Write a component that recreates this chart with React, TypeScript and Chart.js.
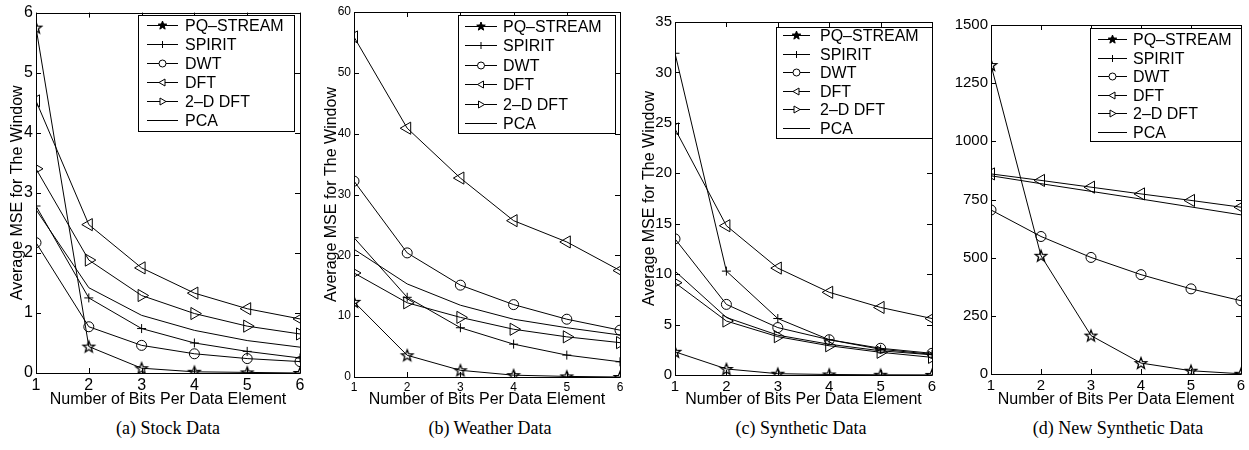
import React, { useEffect, useRef } from "react";
import { Chart, registerables } from "chart.js";

Chart.register(...registerables);

// ---------- data ----------
const xValues = [1, 2, 3, 4, 5, 6];
const seriesNames = ["PQ–STREAM", "SPIRIT", "DWT", "DFT", "2–D DFT", "PCA"];
const xTitle = "Number of Bits Per Data Element";
const yTitle = "Average MSE for The Window";
const captions = ["(a) Stock Data", "(b) Weather Data", "(c) Synthetic Data", "(d) New Synthetic Data"];

// (a) Stock data
const stockPQ = [5.75, 0.44, 0.08, 0.02, 0.01, 0.0];
const stockSPIRIT = [2.78, 1.25, 0.74, 0.5, 0.36, 0.25];
const stockDWT = [2.17, 0.77, 0.46, 0.32, 0.24, 0.19];
const stockDFT = [4.53, 2.47, 1.75, 1.33, 1.07, 0.9];
const stock2DDFT = [3.4, 1.88, 1.29, 0.99, 0.78, 0.65];
const stockPCA = [2.72, 1.42, 0.96, 0.71, 0.54, 0.43];

// (b) Weather data
const weatherPQ = [12.35, 3.57, 1.1, 0.3, 0.1, 0.0];
const weatherSPIRIT = [22.9, 13.1, 8.1, 5.4, 3.6, 2.5];
const weatherDWT = [32.2, 20.4, 15.1, 11.9, 9.5, 7.7];
const weatherDFT = [55.9, 40.9, 32.7, 25.7, 22.2, 17.5];
const weather2DDFT = [17.1, 12.2, 9.8, 7.85, 6.6, 5.65];
const weatherPCA = [21.0, 15.3, 11.8, 9.5, 8.1, 6.9];

// (c) Synthetic data
const synthPQ = [2.3, 0.6, 0.13, 0.05, 0.02, 0.01];
const synthSPIRIT = [31.9, 10.3, 5.6, 3.5, 2.55, 2.05];
const synthDWT = [13.5, 7.0, 4.7, 3.5, 2.65, 2.15];
const synthDFT = [24.4, 14.8, 10.6, 8.2, 6.7, 5.6];
const synth2DDFT = [9.15, 5.35, 3.8, 2.9, 2.25, 1.75];
const synthPCA = [10.3, 5.7, 3.95, 3.05, 2.4, 2.0];

// (d) New synthetic data (SPIRIT and 2-D DFT not visible in the plot)
const newPQ = [1328, 508, 165, 47, 14, 1];
const newSPIRIT: (number | null)[] = [null, null, null, null, null, null];
const newDWT = [705, 591, 501, 427, 366, 315];
const newDFT = [860, 832, 803, 774, 746, 717];
const new2DDFT: (number | null)[] = [null, null, null, null, null, null];
const newPCA = [852, 818, 785, 752, 718, 684];

const yMaxes = [6, 60, 35, 1500];
const ySteps = [1, 10, 5, 250];

// ---------- layout (page coordinates) ----------
type Spec = {
  series: (number | null)[][];
  yMax: number;
  yStep: number;
  canvasLeft: number;
  canvasWidth: number;
  plotLeft: number;
  plotRight: number;
  plotTop: number;
  plotBottom: number;
  tickFont: number;
  showYTitle: boolean;
  yTitleCenter: number;
  legend: { l: number; t: number; r: number; b: number; y0: number; gap: number; lx0: number; lx1: number; tx: number };
  caption: string;
  captionX: number;
};

const CANVAS_H = 410;

const specs: Spec[] = [
  {
    series: [stockPQ, stockSPIRIT, stockDWT, stockDFT, stock2DDFT, stockPCA],
    yMax: yMaxes[0], yStep: ySteps[0],
    canvasLeft: 0, canvasWidth: 310,
    plotLeft: 36, plotRight: 300, plotTop: 12, plotBottom: 373,
    tickFont: 16, showYTitle: true, yTitleCenter: 18,
    legend: { l: 138, t: 15, r: 294, b: 131, y0: 25, gap: 19, lx0: 147, lx1: 178, tx: 185 },
    caption: captions[0], captionX: 168,
  },
  {
    series: [weatherPQ, weatherSPIRIT, weatherDWT, weatherDFT, weather2DDFT, weatherPCA],
    yMax: yMaxes[1], yStep: ySteps[1],
    canvasLeft: 310, canvasWidth: 320,
    plotLeft: 354, plotRight: 620, plotTop: 12, plotBottom: 377,
    tickFont: 12, showYTitle: true, yTitleCenter: 332,
    legend: { l: 458, t: 15, r: 615, b: 133, y0: 26, gap: 19.4, lx0: 465, lx1: 497, tx: 503 },
    caption: captions[1], captionX: 490,
  },
  {
    series: [synthPQ, synthSPIRIT, synthDWT, synthDFT, synth2DDFT, synthPCA],
    yMax: yMaxes[2], yStep: ySteps[2],
    canvasLeft: 630, canvasWidth: 310,
    plotLeft: 675, plotRight: 932, plotTop: 22, plotBottom: 375,
    tickFont: 15, showYTitle: true, yTitleCenter: 650,
    legend: { l: 776, t: 27, r: 932, b: 138, y0: 35, gap: 18.6, lx0: 783, lx1: 810, tx: 820 },
    caption: captions[2], captionX: 801,
  },
  {
    series: [newPQ, newSPIRIT, newDWT, newDFT, new2DDFT, newPCA],
    yMax: yMaxes[3], yStep: ySteps[3],
    canvasLeft: 940, canvasWidth: 309,
    plotLeft: 991, plotRight: 1243, plotTop: 25, plotBottom: 374,
    tickFont: 15, showYTitle: false, yTitleCenter: 960,
    legend: { l: 1090, t: 28, r: 1241, b: 141, y0: 39, gap: 18.5, lx0: 1098, lx1: 1127, tx: 1133 },
    caption: captions[3], captionX: 1118,
  },
];

const FONT = "'Liberation Sans', Arial, Helvetica, sans-serif";

// ---------- marker drawing ----------
function starPath(g: CanvasRenderingContext2D, cx: number, cy: number, r: number) {
  g.beginPath();
  for (let i = 0; i < 10; i++) {
    const rr = i % 2 === 0 ? r : r * 0.42;
    const a = -Math.PI / 2 + (i * Math.PI) / 5;
    const px = cx + rr * Math.cos(a);
    const py = cy + rr * Math.sin(a);
    if (i === 0) g.moveTo(px, py);
    else g.lineTo(px, py);
  }
  g.closePath();
}

function makeStarImage(r: number): HTMLCanvasElement {
  const size = Math.ceil(r * 2 + 4);
  const c = document.createElement("canvas");
  c.width = size;
  c.height = size;
  const g = c.getContext("2d")!;
  starPath(g, size / 2, size / 2 + 0.5, r);
  g.strokeStyle = "#000";
  g.lineWidth = 1.3;
  g.lineJoin = "miter";
  g.stroke();
  return c;
}

function drawLegendMarker(g: CanvasRenderingContext2D, idx: number, x: number, y: number) {
  g.save();
  g.strokeStyle = "#000";
  g.fillStyle = "#000";
  g.lineWidth = 1;
  if (idx === 0) {
    starPath(g, x, y, 4.5);
    g.fill();
    g.stroke();
  } else if (idx === 1) {
    g.beginPath();
    g.moveTo(x - 3.5, y);
    g.lineTo(x + 3.5, y);
    g.moveTo(x, y - 3.5);
    g.lineTo(x, y + 3.5);
    g.stroke();
  } else if (idx === 2) {
    g.beginPath();
    g.arc(x, y, 3.5, 0, Math.PI * 2);
    g.fillStyle = "#fff";
    g.fill();
    g.stroke();
  } else if (idx === 3 || idx === 4) {
    const d = idx === 3 ? -1 : 1;
    g.beginPath();
    g.moveTo(x + d * 3.5, y);
    g.lineTo(x - d * 2.5, y - 3.5);
    g.lineTo(x - d * 2.5, y + 3.5);
    g.closePath();
    g.fillStyle = "#fff";
    g.fill();
    g.stroke();
  }
  g.restore();
}

const framePlugin = {
  id: "matlabFrame",
  afterDraw(chart: any) {
    const spec: Spec = chart.options.plugins.matlabFrame.spec;
    const g: CanvasRenderingContext2D = chart.ctx;
    const { left, right, top, bottom } = chart.chartArea;
    const xs = chart.scales.x;
    const ys = chart.scales.y;
    const tl = 5;
    g.save();
    g.strokeStyle = "#000";
    g.lineWidth = 1;
    g.beginPath();
    g.rect(Math.round(left) + 0.5, Math.round(top) + 0.5, Math.round(right - left), Math.round(bottom - top));
    g.stroke();
    g.beginPath();
    for (const t of ys.ticks) {
      const py = Math.round(ys.getPixelForValue(t.value)) + 0.5;
      g.moveTo(left, py);
      g.lineTo(left + tl, py);
      g.moveTo(right, py);
      g.lineTo(right - tl, py);
    }
    for (const t of xs.ticks) {
      const px = Math.round(xs.getPixelForValue(t.value)) + 0.5;
      g.moveTo(px, bottom);
      g.lineTo(px, bottom - tl);
      g.moveTo(px, top);
      g.lineTo(px, top + tl);
    }
    g.stroke();

    // legend
    const o = spec.canvasLeft;
    const L = spec.legend;
    g.fillStyle = "#fff";
    g.fillRect(L.l - o, L.t, L.r - L.l, L.b - L.t);
    g.strokeRect(L.l - o + 0.5, L.t + 0.5, L.r - L.l, L.b - L.t);
    g.font = `16px ${FONT}`;
    g.textBaseline = "middle";
    g.textAlign = "left";
    seriesNames.forEach((name, i) => {
      const y = Math.round(L.y0 + i * L.gap) + 0.5;
      g.beginPath();
      g.moveTo(L.lx0 - o, y);
      g.lineTo(L.lx1 - o, y);
      g.strokeStyle = "#000";
      g.stroke();
      drawLegendMarker(g, i, (L.lx0 + L.lx1) / 2 - o, y);
      g.fillStyle = "#000";
      g.fillText(name, L.tx - o, y + 1);
    });
    g.restore();
  },
};

function SubChart({ spec }: { spec: Spec }) {
  const ref = useRef<HTMLCanvasElement | null>(null);
  useEffect(() => {
    if (!ref.current) return;
    const star = makeStarImage(6);
    const styles: any[] = [star, "cross", "circle", "triangle", "triangle", false];
    const rotations = [0, 0, 0, -90, 90, 0];
    const radii = [6, 4.5, 5, 7, 7, 0];
    const datasets = spec.series.map((vals, i) => ({
      label: seriesNames[i],
      data: xValues.map((x, j) => ({ x, y: vals[j] })),
      borderColor: "#000",
      borderWidth: 1,
      pointStyle: styles[i],
      pointRotation: rotations[i],
      pointRadius: radii[i],
      pointHoverRadius: radii[i],
      pointBorderColor: "#000",
      pointBackgroundColor: "rgba(0,0,0,0)",
      pointBorderWidth: 1,
      tension: 0,
      fill: false,
    }));
    const xHeight = CANVAS_H - spec.plotBottom;
    const yWidth = spec.plotLeft - spec.canvasLeft;
    const chart = new Chart(ref.current, {
      type: "line",
      data: { datasets },
      plugins: [framePlugin],
      options: {
        animation: false,
        responsive: false,
        devicePixelRatio: 1,
        layout: {
          padding: { left: 0, top: spec.plotTop, right: spec.canvasLeft + spec.canvasWidth - spec.plotRight, bottom: 0 },
        },
        plugins: {
          legend: { display: false },
          tooltip: { enabled: false },
          matlabFrame: { spec },
        } as any,
        scales: {
          x: {
            type: "linear",
            min: 1,
            max: 6,
            grid: { display: false, drawTicks: false },
            border: { display: false },
            ticks: {
              stepSize: 1,
              padding: 3,
              color: "#000",
              font: { size: spec.tickFont, family: FONT },
              maxRotation: 0,
              callback: (v: any) => String(v),
            },
            title: {
              display: true,
              text: xTitle,
              color: "#000",
              font: { size: 16, family: FONT, lineHeight: 1.2 },
              padding: { top: 0, bottom: 1 },
            },
            afterFit: (s: any) => {
              s.height = xHeight;
            },
          },
          y: {
            type: "linear",
            min: 0,
            max: spec.yMax,
            grid: { display: false, drawTicks: false },
            border: { display: false },
            ticks: {
              stepSize: spec.yStep,
              padding: 3,
              color: "#000",
              font: { size: spec.tickFont, family: FONT },
              callback: (v: any) => String(v),
            },
            title: {
              display: spec.showYTitle,
              text: yTitle,
              color: "#000",
              font: { size: 16, family: FONT, lineHeight: 1.2 },
              padding: { top: spec.yTitleCenter - spec.canvasLeft - 9.6, bottom: 0 },
            },
            afterFit: (s: any) => {
              s.width = yWidth;
            },
          },
        },
      } as any,
    });
    return () => chart.destroy();
  }, [spec]);
  return (
    <canvas
      ref={ref}
      width={spec.canvasWidth}
      height={CANVAS_H}
      style={{ position: "absolute", left: spec.canvasLeft, top: 0, width: spec.canvasWidth, height: CANVAS_H, display: "block" }}
    />
  );
}

export default function App() {
  return (
    <div style={{ position: "absolute", left: 0, top: 0, width: 1249, height: 450, background: "#fff", overflow: "hidden" }}>
      {specs.map((s, i) => (
        <SubChart key={i} spec={s} />
      ))}
      {specs.map((s, i) => (
        <div
          key={"c" + i}
          style={{
            position: "absolute",
            left: s.captionX - 150,
            width: 300,
            top: 418,
            textAlign: "center",
            fontFamily: "'Liberation Serif', 'Times New Roman', serif",
            fontSize: 18,
            lineHeight: "20px",
            color: "#000",
            whiteSpace: "nowrap",
          }}
        >
          {s.caption}
        </div>
      ))}
    </div>
  );
}
